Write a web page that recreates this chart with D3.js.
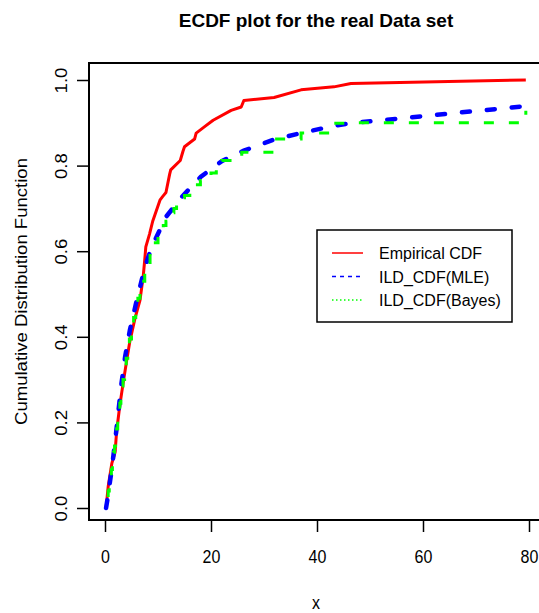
<!DOCTYPE html>
<html><head><meta charset="utf-8">
<script src="https://cdn.jsdelivr.net/npm/d3@7"></script>
<style>body{margin:0;background:#fff;} svg{display:block;font-family:"Liberation Sans",Arial,sans-serif;}</style>
</head><body>
<svg id="chart" width="539" height="613"></svg>
<script>
const xTicks = [0, 20, 40, 60, 80];
const yTicks = [0, 0.2, 0.4, 0.6, 0.8, 1.0];
const seriesNames = ["Empirical CDF", "ILD_CDF(MLE)", "ILD_CDF(Bayes)"];
const seriesColors = ["#ff0000", "#0000ff", "#00ff00"];

// Empirical CDF (line through points)
const empX = [0.2,0.6,1.3,1.9,2.2,2.8,3.4,4.1,4.7,5.7,6.6,7.2,7.5,7.7,8.4,9.0,10.4,10.9,11.5,12.2,12.4,14.2,14.7,15.0,16.9,17.2,18.8,20.4,23.8,25.7,26.2,31.9,37.0,43.2,46.4,79.4];
const empY = [0.0,0.05,0.105,0.13,0.18,0.24,0.29,0.345,0.39,0.445,0.485,0.54,0.58,0.61,0.64,0.67,0.72,0.728,0.737,0.78,0.79,0.812,0.833,0.844,0.862,0.876,0.891,0.906,0.929,0.937,0.952,0.959,0.977,0.984,0.992,1.0];

// ILD CDF (MLE)
const mleX = [0.2,0.5,1.3,1.9,2.5,3.1,3.8,4.7,6.0,7.4,8.8,9.4,11.5,14.5,18.1,22.1,26.2,31.9,37.0,43.2,46.4,79.4];
const mleY = [0.0,0.023,0.093,0.155,0.222,0.29,0.354,0.416,0.486,0.556,0.611,0.625,0.68,0.727,0.774,0.811,0.835,0.861,0.876,0.893,0.899,0.939];

// ILD CDF (Bayes), drawn as steps
const bayX = [0.2,0.4,0.6,0.8,1.0,1.2,1.4,1.6,1.8,2.0,2.2,2.4,2.6,2.8,3.0,3.2,3.4,3.7,4.0,4.3,4.6,5.0,5.4,5.8,6.2,6.6,7.0,7.5,8.0,8.5,9.0,9.5,10.0,10.5,11.0,11.5,12.0,12.5,13.0,13.5,14.0,14.5,15.0,16.0,17.0,18.0,19.0,20.0,21.0,22.0,25.8,31.9,37.0,43.2,46.4,79.4];
const bayY = [0.0,0.02,0.04,0.06,0.075,0.09,0.11,0.13,0.145,0.165,0.185,0.205,0.225,0.245,0.265,0.285,0.30,0.325,0.35,0.375,0.395,0.42,0.445,0.465,0.49,0.51,0.53,0.55,0.57,0.59,0.605,0.62,0.635,0.65,0.66,0.67,0.68,0.69,0.70,0.71,0.717,0.725,0.73,0.743,0.755,0.765,0.775,0.783,0.79,0.812,0.831,0.862,0.876,0.899,0.90,0.928];

const svg = d3.select("#chart");
const box = {left: 89, top: 63, right: 548, bottom: 520};
const x = d3.scaleLinear().domain([0, 80]).range([105, 529]);
const y = d3.scaleLinear().domain([0, 1]).range([508, 80]);
const stretch = 1.16;

// title
svg.append("text").attr("x", 316).attr("y", 27).attr("text-anchor", "middle")
  .attr("font-size", 19).attr("font-weight", "bold").text("ECDF plot for the real Data set");

// x axis
const gx = svg.append("g").attr("transform", `translate(0,${box.bottom})`)
  .call(d3.axisBottom(x).tickValues(xTicks).tickSize(12).tickFormat(d3.format("d")));
gx.select(".domain").remove();
gx.selectAll("line").attr("stroke", "#000").attr("stroke-width", 1.5);
gx.selectAll("text").attr("y", 0).attr("dy", 0).attr("font-size", 16).attr("fill", "#000")
  .attr("font-family", "Liberation Sans, Arial, sans-serif")
  .attr("transform", `translate(0,43) scale(1,${stretch})`);

// y axis
const gy = svg.append("g").attr("transform", `translate(${box.left},0)`)
  .call(d3.axisLeft(y).tickValues(yTicks).tickSize(12).tickFormat(d3.format(".1f")));
gy.select(".domain").remove();
gy.selectAll("line").attr("stroke", "#000").attr("stroke-width", 1.5);
gy.selectAll("text").attr("x", 0).attr("dy", 0).attr("y", 0)
  .attr("text-anchor", "middle").attr("font-size", 16).attr("fill", "#000")
  .attr("font-family", "Liberation Sans, Arial, sans-serif")
  .attr("transform", `translate(-22,0) rotate(-90) scale(${stretch},1)`);

// axis titles
svg.append("text").attr("transform", `translate(${x(40) - 1},609) scale(1,${stretch})`)
  .attr("text-anchor", "middle").attr("font-size", 16).text("x");
svg.append("text").attr("transform", `translate(27,${(box.top + box.bottom) / 2}) rotate(-90) scale(${stretch},1)`)
  .attr("text-anchor", "middle").attr("font-size", 16).text("Cumulative Distribution Function");

// curves
const lineL = d3.line().x(d => x(d[0])).y(d => y(d[1]));
const lineS = d3.line().x(d => x(d[0])).y(d => y(d[1])).curve(d3.curveStepAfter);
const emp = empX.map((v, i) => [v, empY[i]]);
const mle = mleX.map((v, i) => [v, mleY[i]]);
const bay = bayX.map((v, i) => [v, bayY[i]]);

svg.append("path").attr("d", lineL(emp)).attr("fill", "none")
  .attr("stroke", seriesColors[0]).attr("stroke-width", 3).attr("stroke-linejoin", "round");
svg.append("path").attr("d", lineL(mle)).attr("fill", "none")
  .attr("stroke", seriesColors[1]).attr("stroke-width", 4.5).attr("stroke-dasharray", "8,17")
  .attr("stroke-linecap", "round");
svg.append("path").attr("d", lineS(bay)).attr("fill", "none")
  .attr("stroke", seriesColors[2]).attr("stroke-width", 3).attr("stroke-dasharray", "10,15")
  .attr("stroke-dashoffset", 12).attr("stroke-linecap", "butt");

// frame
svg.append("rect").attr("x", box.left).attr("y", box.top)
  .attr("width", box.right - box.left).attr("height", box.bottom - box.top)
  .attr("fill", "none").attr("stroke", "#000").attr("stroke-width", 2);

// legend
const lg = svg.append("g");
lg.append("rect").attr("x", 317).attr("y", 230).attr("width", 195).attr("height", 92)
  .attr("fill", "#fff").attr("stroke", "#000").attr("stroke-width", 1.5);
const dashes = [null, "4,4", "1.5,2.5"];
seriesNames.forEach((name, i) => {
  const yy = 253 + i * 23.5;
  lg.append("line").attr("x1", 332).attr("x2", 363).attr("y1", yy).attr("y2", yy)
    .attr("stroke", seriesColors[i]).attr("stroke-width", 1.5)
    .attr("stroke-dasharray", dashes[i]);
  lg.append("text").attr("x", 379).attr("y", yy + 6).attr("font-size", 16).text(name);
});
</script>
</body></html>
